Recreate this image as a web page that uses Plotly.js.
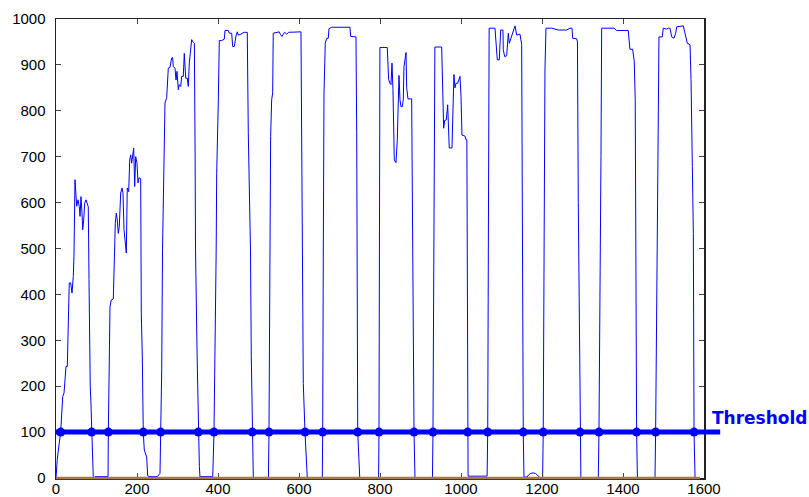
<!DOCTYPE html>
<html>
<head>
<meta charset="utf-8">
<script src="https://cdn.plot.ly/plotly-3.0.1.min.js"></script>
<style>
  html, body { margin: 0; padding: 0; background: #fff; }
  #chart { width: 809px; height: 497px; }
</style>
</head>
<body>
<div id="chart"></div>
<script>
// Sensor signal samples (sample index, reading)
const sigX = [
  0, 3, 8, 11.6, 16.5, 19.8, 24.7, 27.9, 30.4, 32.8, 36.3, 39.5, 42.7, 44.4, 46.9, 49.4, 51.1, 54.3, 57.5, 59.3,
  61.7, 64.2, 65.9, 68.4, 70.9, 74.1, 77.3, 79.7, 81.5, 82.5, 84.5, 86, 88, 90, 92, 93.5, 96, 128.5,
  129.2, 133.3, 136.5, 141.5, 143.9, 146.4, 148.9, 151.3, 153.8, 156.3, 159.7, 163, 165.4, 167.9, 171.1, 173.6,
  176, 179.5, 182, 184.4, 186.9, 189.4, 191.8, 194.3, 196.8, 200, 202.5, 204.9, 209.1, 210.6, 213.1, 215.5,
  218, 223.9, 226.4, 229.6, 250.1, 256.8,
  258.5, 261, 263, 267.4, 269.1, 273.3, 274.8, 277.3, 281.5, 285.6, 288.1, 289.6, 293.8, 296.3, 298.8, 302,
  304.4, 307.9, 310.4, 314.3, 316.8, 320.3, 324.2, 326.7, 329.1, 331.6, 335, 339, 341.7, 343.5, 344.5, 348.5,
  351.4, 354, 355.5, 358, 387,
  390.1, 395.5, 396.8, 400.7, 403.2, 409.1, 415.5, 417.3, 425.4, 427.9, 433.8, 436.3, 440.3, 444.4, 447.6,
  450.1, 456.8, 464.2, 472.3, 474.8, 477.3, 480.2, 482.2, 484.7, 487.2, 524.5,
  525.9, 528.4, 530, 532.5, 535, 536.4, 544.9, 551.3, 554.3, 558, 561.2, 564.7, 569.6, 574.5, 604.9, 606.6,
  609.1, 610.6, 614.8, 620.5, 657.5,
  658.5, 660, 661.7, 664.9, 668.4, 672.3, 674.1, 680.7, 725.9, 727.6, 740.7, 742.5, 743.5, 745, 750, 796.5,
  797.5, 799, 799.8, 817.9, 819.7, 821.4, 824.6, 827.1, 829.6, 832, 835.3, 839.5, 842.7, 846.9, 849.3, 851.8,
  855, 857.5, 859.2, 861.7, 864.2, 865.9, 869.1, 878.2, 880.7, 884, 886.4, 929.5,
  930.8, 933.5, 935.5, 952.3, 954.7, 957.2, 959.7, 963.6, 967.1, 969.5, 971, 977.7, 980.2, 982.6, 985.1,
  987.6, 991.8, 997.5, 1000, 1002.4, 1009.8, 1012.3, 1014.5, 1016.5, 1017.5, 1064.5,
  1066, 1067.5, 1069.5, 1083.9, 1086.4, 1089.6, 1094.5, 1098, 1103.6, 1104.4, 1107.9, 1112.8, 1116.8, 1119.3,
  1123.4, 1129.1, 1133.3, 1137.5, 1145.6, 1149.8, 1151.2, 1153.7, 1155.5, 1163, 1167, 1172, 1178, 1184, 1190,
  1195, 1201.5,
  1203, 1207.3, 1209.8, 1223.9, 1240.2, 1260.9, 1269.1, 1274, 1275.8, 1285.7, 1287.5, 1289.6, 1293.7, 1296, 1339,
  1340.7, 1345.6, 1347.3, 1377.7, 1384.3, 1412.9, 1417.1, 1423.8, 1427.7, 1430.2, 1431.5, 1433.6, 1435.6, 1479,
  1480.6, 1486.3, 1488.8, 1497, 1499.4, 1507.8, 1511.8, 1516, 1520.2, 1525.9, 1530.1, 1532.6, 1548.9, 1553.1,
  1558.8, 1565.5, 1568, 1571.2, 1573.7, 1575.4, 1577.9, 1590
];
const sigY = [
  0, 40, 76, 100, 177, 185, 243, 243, 338, 425, 425, 403, 439, 483, 650, 621, 592, 606, 591, 570,
  613, 577, 541, 562, 599, 606, 599, 591, 432, 242, 200, 170, 100, 40, 3, 0, 3, 3,
  100, 373, 388, 390, 504, 555, 577, 562, 533, 548, 621, 632, 621, 541, 512, 490,
  632, 624, 693, 704, 686, 700, 719, 635, 700, 686, 643, 654, 652, 359, 264, 100,
  61, 46, 5, 3, 3, 10,
  100, 235, 497, 759, 817, 829, 846, 893, 895, 915, 916, 896, 893, 867, 886, 846,
  857, 853, 875, 875, 925, 871, 871, 853, 904, 933, 955, 949, 947, 700, 497, 264,
  100, 25, 2, 3, 3,
  100, 497, 664, 817, 953, 953, 956, 975, 975, 969, 969, 940, 940, 963, 972,
  965, 967, 971, 971, 752, 606, 497, 264, 100, 0, 0,
  100, 497, 744, 824, 839, 969, 971, 972, 966, 962, 967, 971, 967, 971, 972, 752,
  497, 206, 100, 0, 0,
  100, 497, 839, 947, 958, 958, 979, 982, 982, 962, 961, 752, 497, 100, 0, 0,
  100, 497, 938, 938, 904, 868, 860, 857, 904, 846, 693, 687, 737, 877, 824, 809,
  809, 824, 896, 918, 927, 850, 826, 826, 497, 100, 0, 0,
  100, 650, 939, 939, 831, 762, 779, 780, 813, 744, 719, 719, 831, 879, 850,
  860, 860, 875, 831, 747, 745, 737, 737, 100, 4, 4,
  100, 497, 980, 980, 951, 911, 911, 976, 976, 933, 918, 920, 969, 947,
  958, 976, 985, 965, 967, 945, 497, 100, 2, 2, 7, 10, 11, 10, 5,
  1, 0,
  100, 889, 980, 980, 976, 976, 980, 980, 958, 957, 950, 600, 100, 0, 0,
  100, 700, 980, 980, 975, 975, 934, 934, 908, 824, 500, 100, 0, 0,
  100, 700, 961, 961, 980, 978, 980, 980, 961, 958, 969, 983, 985, 969,
  947, 944, 868, 679, 533, 100, 0, 0
];

// Zero baseline series
const baseX = [0, 1590];
const baseY = [0, 0];

// Threshold level and the samples where the signal crosses it
const thresholdValue = 100;
const thresholdLabel = 'Threshold';
const crossingX = [
  11.6, 88, 129.2, 215.5, 258.5, 351.4, 390.1, 484.7, 525.9, 614.8, 658.5, 745,
  797.5, 884, 930.8, 1016.5, 1066, 1153.7, 1203, 1293.7, 1340.7, 1433.6, 1480.6, 1575.4
];

// Axis settings
const xRange = [0, 1600];
const yRange = [0, 1000];
const xTickStep = 200;
const yTickStep = 100;

const blue = '#0000ff';
const brown = '#a57a48';
const tickFont = { family: 'Liberation Sans, Arial, sans-serif', size: 15, color: '#000' };

const traces = [
  {
    x: sigX, y: sigY, type: 'scatter', mode: 'lines',
    line: { color: blue, width: 1 }, hoverinfo: 'skip', showlegend: false
  },
  {
    x: crossingX, y: crossingX.map(() => thresholdValue), type: 'scatter', mode: 'markers',
    marker: { color: blue, size: 9 }, cliponaxis: false, showlegend: false
  }
];

const toPaperY = v => (v - yRange[0]) / (yRange[1] - yRange[0]);

const axisCommon = {
  showgrid: false, zeroline: false,
  showline: true, linecolor: '#222', linewidth: 1.5, mirror: 'ticks',
  ticks: 'inside', ticklen: 5, tickwidth: 1, tickcolor: '#444',
  tickfont: tickFont
};

const layout = {
  width: 809, height: 497,
  margin: { l: 56, r: 105, t: 19, b: 19, pad: 0 },
  paper_bgcolor: '#fff', plot_bgcolor: '#fff',
  showlegend: false,
  xaxis: Object.assign({}, axisCommon, { range: xRange, dtick: xTickStep, tick0: 0, ticklabelstandoff: -4 }),
  yaxis: Object.assign({}, axisCommon, { range: yRange, dtick: yTickStep, tick0: 0, ticklabelstandoff: 6 }),
  shapes: [
    // zero baseline along the bottom edge
    {
      type: 'line', layer: 'above', xref: 'x', yref: 'paper',
      x0: baseX[0], x1: baseX[baseX.length - 1],
      y0: toPaperY(baseY[0]), y1: toPaperY(baseY[baseY.length - 1]),
      line: { color: brown, width: 2.5 }
    },
    // threshold line, running a little past the right edge
    {
      type: 'line', layer: 'above', xref: 'paper', yref: 'y',
      x0: 0, x1: 1.025, y0: thresholdValue, y1: thresholdValue,
      line: { color: blue, width: 5 }
    }
  ],
  annotations: [
    {
      text: '<b>' + thresholdLabel + '</b>', xref: 'paper', yref: 'y',
      x: 1.01, y: thresholdValue + 30, xanchor: 'left', yanchor: 'middle',
      showarrow: false,
      font: { family: 'DejaVu Sans, sans-serif', size: 17, color: blue }
    }
  ]
};

Plotly.newPlot('chart', traces, layout, { staticPlot: true, displayModeBar: false });
</script>
</body>
</html>
